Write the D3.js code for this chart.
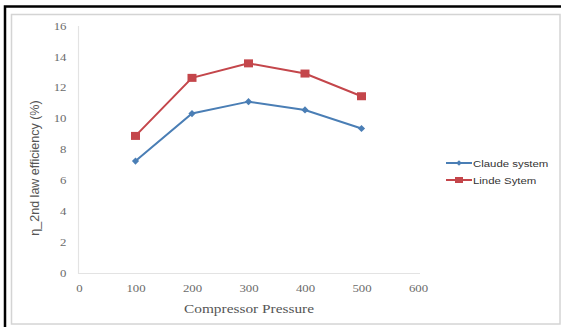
<!DOCTYPE html>
<html><head><meta charset="utf-8">
<script src="https://cdn.jsdelivr.net/npm/d3@7"></script>
<style>body{margin:0;background:#fff}svg{display:block}</style>
</head><body>
<svg id="c" width="561" height="327"></svg>
<script>
const pressures = [100, 200, 300, 400, 500];
const claude = [7.25, 10.33, 11.1, 10.56, 9.36];
const linde = [8.88, 12.64, 13.58, 12.92, 11.45];
const xTicks = [0, 100, 200, 300, 400, 500, 600];
const yTicks = [0, 2, 4, 6, 8, 10, 12, 14, 16];
const seriesNames = ["Claude system", "Linde Sytem"];

const SX = 1.28; // horizontal stretch of text in the reference
const svg = d3.select("#c");
// frames
svg.append("rect").attr("x", 5).attr("y", 6.5).attr("width", 600).attr("height", 400)
  .attr("fill", "none").attr("stroke", "#000").attr("stroke-width", 2.5);
svg.append("rect").attr("x", 11.5).attr("y", 14.5).attr("width", 548.5).attr("height", 309.5)
  .attr("fill", "#fff").attr("stroke", "#d4d4d4").attr("stroke-width", 1.5);

const x = d3.scaleLinear().domain([0, 600]).range([79, 418]);
const y = d3.scaleLinear().domain([0, 16]).range([273, 26]);

// axes
const xAxis = d3.axisBottom(x).tickValues(xTicks).tickSize(0).tickPadding(11);
const gx = svg.append("g").attr("transform", "translate(0,273.5)").call(xAxis);
gx.select(".domain").attr("stroke", "#e3e3e3").attr("stroke-width", 1.2).attr("d", "M78,0H420");
gx.selectAll("text").attr("font-family", "Liberation Serif, serif").attr("font-size", 10).attr("fill", "#6b6b6b")
  .attr("transform", `scale(${SX},1)`);

const yAxis = d3.axisLeft(y).tickValues(yTicks).tickSize(0);
const gy = svg.append("g").attr("transform", "translate(78.5,0)").call(yAxis);
gy.select(".domain").attr("stroke", "#e3e3e3").attr("stroke-width", 1.2).attr("d", "M0,26V274");
gy.selectAll("text").attr("font-family", "Liberation Serif, serif").attr("font-size", 10).attr("fill", "#6b6b6b")
  .attr("x", -12 / SX).attr("transform", `scale(${SX},1)`);

// titles
svg.append("text").attr("transform", `translate(249,313) scale(${SX},1)`).attr("text-anchor", "middle")
  .attr("font-family", "Liberation Serif, serif").attr("font-size", 12).attr("fill", "#555")
  .text("Compressor Pressure");
svg.append("text").attr("transform", "translate(39,168) rotate(-90)").attr("text-anchor", "middle")
  .attr("font-family", "Liberation Sans Narrow, Liberation Sans, sans-serif").attr("font-size", 12.5).attr("fill", "#555")
  .text("η_2nd law efficiency (%)");

const line = d3.line().x((d, i) => x(pressures[i])).y(d => y(d));
const blue = "#4a7eb5", red = "#c4464b";

svg.append("path").datum(claude).attr("d", line).attr("fill", "none").attr("stroke", blue).attr("stroke-width", 2);
svg.append("path").datum(linde).attr("d", line).attr("fill", "none").attr("stroke", red).attr("stroke-width", 2);

const diamond = d3.symbol().type(d3.symbolSquare).size(26);
svg.selectAll(".cm").data(claude).join("path").attr("class", "cm")
  .attr("d", diamond())
  .attr("transform", (d, i) => `translate(${x(pressures[i])},${y(d)}) rotate(45)`)
  .attr("fill", blue);
svg.selectAll(".lm").data(linde).join("rect").attr("class", "lm")
  .attr("x", (d, i) => x(pressures[i]) - 4.5).attr("y", d => y(d) - 4)
  .attr("width", 9).attr("height", 8).attr("fill", red);

// legend
const lg = svg.append("g");
const ly = [163, 180];
[blue, red].forEach((c, i) => {
  lg.append("line").attr("x1", 446).attr("x2", 472).attr("y1", ly[i]).attr("y2", ly[i]).attr("stroke", c).attr("stroke-width", 2);
  if (i === 0) {
    lg.append("path").attr("d", d3.symbol().type(d3.symbolSquare).size(16)()).attr("transform", `translate(459,${ly[i]}) rotate(45)`).attr("fill", c);
  } else {
    lg.append("rect").attr("x", 455).attr("y", ly[i] - 3).attr("width", 8).attr("height", 6).attr("fill", c);
  }
  lg.append("text").attr("transform", `translate(473,${ly[i] + 3.5}) scale(1.2,1)`).attr("font-family", "Liberation Sans, sans-serif")
    .attr("font-size", 9.5).attr("fill", "#333").text(seriesNames[i]);
});
</script>
</body></html>
